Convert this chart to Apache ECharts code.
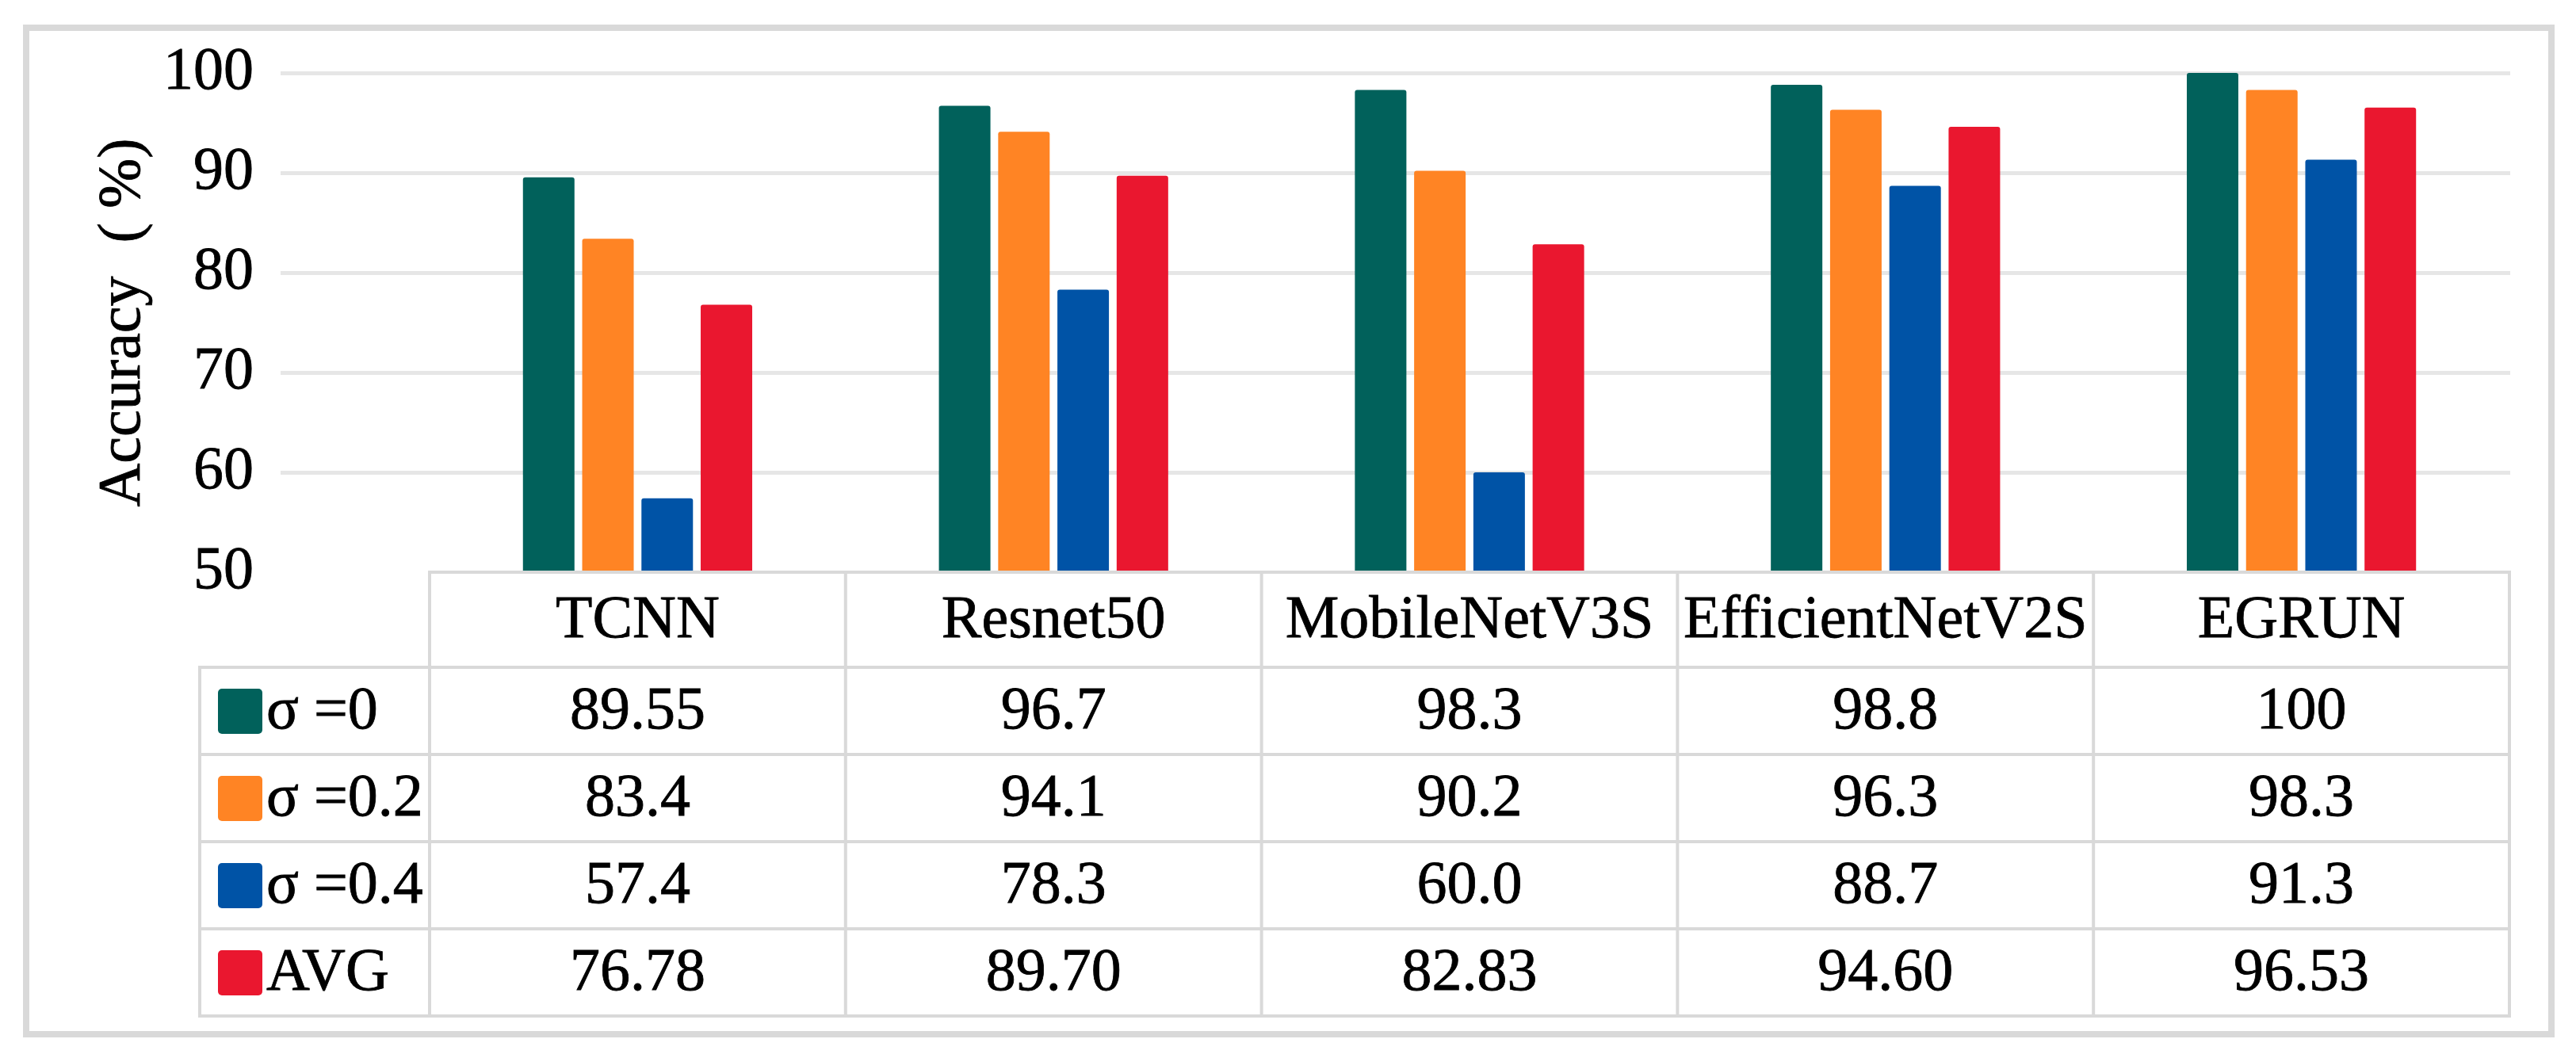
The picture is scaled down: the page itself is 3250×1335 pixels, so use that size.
<!DOCTYPE html>
<html><head><meta charset="utf-8">
<script src="https://cdn.jsdelivr.net/npm/echarts@6/dist/echarts.min.js"></script>
<style>html,body{margin:0;padding:0;background:#fff}#c{width:3250px;height:1335px}</style>
</head><body><div id="c"></div>
<script>
// ---- data ----
const categories = ['TCNN', 'Resnet50', 'MobileNetV3S', 'EfficientNetV2S', 'EGRUN'];
const seriesNames = ['σ =0', 'σ =0.2', 'σ =0.4', 'AVG'];
const sigma0  = [89.55, 96.7, 98.3, 98.8, 100];
const sigma02 = [83.4, 94.1, 90.2, 96.3, 98.3];
const sigma04 = [57.4, 78.3, 60.0, 88.7, 91.3];
const avg     = [76.78, 89.70, 82.83, 94.60, 96.53];
const yTicks  = [50, 60, 70, 80, 90, 100];
const yAxisNameMain = 'Accuracy';
const yAxisNameUnit = '%';

// ---- styling / layout ----
const colors = ['#01615B', '#FF8424', '#0053A6', '#EA172F'];
const FONT = 'Liberation Serif';
const FS = 76;
const gridColor = '#e6e6e6';
const tableColor = '#d9d9d9';
const plotTop = 92, axisY = 722;
const gridLeft = 354, gridRight = 3167;
const tableLeft = 252, colLeft = 542, tableRight = 3166;
const headerBottom = 842, rowH = 110;
const colW = (tableRight - colLeft) / categories.length;

const seriesData = [sigma0, sigma02, sigma04, avg];
const fmt = [v => String(v), v => v.toFixed(1), v => v.toFixed(1), v => v.toFixed(2)];

const chart = echarts.init(document.getElementById('c'), null, {renderer: 'canvas'});

const graphic = [];
// outer frame
graphic.push({type: 'rect', z: 100, shape: {x: 33, y: 35, width: 3219 - 33, height: 1305 - 35},
  style: {fill: 'none', stroke: tableColor, lineWidth: 8}});
// table lines
function hline(x1, x2, y) {
  graphic.push({type: 'line', z: 100, shape: {x1, y1: y, x2, y2: y}, style: {stroke: tableColor, lineWidth: 4}});
}
function vline(x, y1, y2) {
  graphic.push({type: 'line', z: 100, shape: {x1: x, y1, x2: x, y2}, style: {stroke: tableColor, lineWidth: 4}});
}
const tableBottom = headerBottom + rowH * seriesNames.length;
hline(colLeft - 2, tableRight + 2, axisY);
for (let r = 0; r <= seriesNames.length; r++) hline(tableLeft - 2, tableRight + 2, headerBottom + r * rowH);
vline(tableLeft, headerBottom, tableBottom);
for (let c = 0; c <= categories.length; c++) vline(colLeft + c * colW, axisY, tableBottom);

const txtStyle = (text, align) => ({text, fontFamily: FONT, fontSize: FS, fill: '#000',
  stroke: '#000', lineWidth: 0.8, textAlign: align, textVerticalAlign: 'middle'});
// header texts
categories.forEach((name, i) => {
  graphic.push({type: 'text', z: 101, x: colLeft + colW * (i + 0.5), y: (axisY + headerBottom) / 2 + 2,
    style: txtStyle(name, 'center')});
});
// rows
seriesNames.forEach((name, r) => {
  const cy = headerBottom + rowH * (r + 0.5);
  graphic.push({type: 'rect', z: 101, shape: {x: 275, y: cy - 28, width: 56, height: 57, r: 5},
    style: {fill: colors[r]}});
  graphic.push({type: 'text', z: 101, x: 336, y: cy + 2, style: txtStyle(name, 'left')});
  seriesData[r].forEach((v, i) => {
    graphic.push({type: 'text', z: 101, x: colLeft + colW * (i + 0.5), y: cy + 2,
      style: txtStyle(fmt[r](v), 'center')});
  });
});

const baseRich = {fontFamily: FONT, fontSize: FS, color: '#000', textBorderColor: '#000', textBorderWidth: 0.8};
const option = {
  backgroundColor: '#fff',
  animation: false,
  grid: [
    {left: gridLeft, top: plotTop, width: gridRight - gridLeft, height: axisY - plotTop},
    {left: colLeft, top: plotTop, width: tableRight - colLeft, height: axisY - plotTop}
  ],
  xAxis: [
    {gridIndex: 0, type: 'category', data: [''], show: false},
    {gridIndex: 1, type: 'category', data: categories, show: false}
  ],
  yAxis: [
    {gridIndex: 0, type: 'value', min: yTicks[0], max: yTicks[yTicks.length - 1], interval: yTicks[1] - yTicks[0],
      axisLine: {show: false}, axisTick: {show: false},
      axisLabel: {fontFamily: FONT, fontSize: FS, color: '#000', margin: 34, textBorderColor: '#000', textBorderWidth: 0.8},
      splitLine: {show: true, showMinLine: false, lineStyle: {color: gridColor, width: 5}},
      name: '{a|' + yAxisNameMain + '}{l|(}{m|' + yAxisNameUnit + '}{r|)}',
      nameLocation: 'middle', nameRotate: 90, nameGap: 86,
      nameTextStyle: Object.assign({}, baseRich, {
        rich: {a: baseRich,
               l: Object.assign({}, baseRich, {padding: [0, 0, 0, 42]}),
               m: Object.assign({}, baseRich, {padding: [0, 0, 0, 18]}),
               r: baseRich}})},
    {gridIndex: 1, type: 'value', min: yTicks[0], max: yTicks[yTicks.length - 1], interval: yTicks[1] - yTicks[0],
      show: false, splitLine: {show: false}}
  ],
  series: seriesNames.map((name, k) => ({
    name, type: 'bar', xAxisIndex: 1, yAxisIndex: 1, data: seriesData[k],
    barWidth: 65, barGap: '15%', clip: true,
    itemStyle: {color: colors[k], borderRadius: [3, 3, 0, 0]}
  })),
  graphic
};
chart.setOption(option);
</script></body></html>
